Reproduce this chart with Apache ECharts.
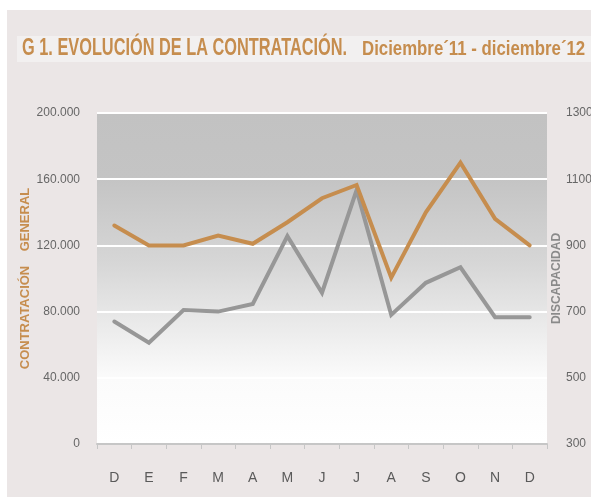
<!DOCTYPE html>
<html>
<head>
<meta charset="utf-8">
<script src="https://cdn.jsdelivr.net/npm/echarts@6/dist/echarts.min.js"></script>
<style>
  html, body { margin: 0; padding: 0; background: #fff; }
  #chart { width: 591px; height: 497px; }
</style>
</head>
<body>
<div id="chart"></div>
<script>
// meses dic'11 - dic'12
const meses = ["D", "E", "F", "M", "A", "M", "J", "J", "A", "S", "O", "N", "D"];
// contratación general (eje izquierdo)
const general = [132000, 120000, 120000, 126000, 121000, 134000, 148500, 156500, 100500, 140000, 170000, 136000, 120000];
// discapacidad (eje derecho)
const discapacidad = [670, 606, 705, 700, 723, 928, 757, 1067, 690, 787, 834, 683, 683];

const naranja = "#c68d4e";
const gris = "#979797";

function initChart() {
    const chart = echarts.init(document.getElementById('chart'), null, { renderer: 'canvas' });

    const option = {
        animation: false,
        graphic: [
            // fondo de la ficha
            { type: 'rect', left: 7, top: 10, shape: { width: 584, height: 487 }, style: { fill: '#ebe6e6' }, z: -10 },
            // banda del título
            { type: 'rect', left: 17, top: 36, shape: { width: 574, height: 26 }, style: { fill: '#f2f0f0' }, z: -9 },
            {
                type: 'text', x: 22, y: 49, scaleX: 0.71,
                style: {
                    text: 'G 1. EVOLUCIÓN DE LA CONTRATACIÓN.',
                    verticalAlign: 'middle',
                    fontFamily: 'Liberation Sans', fontWeight: 'bold', fontSize: 23, fill: naranja
                }
            },
            {
                type: 'text', x: 362, y: 49.5, scaleX: 0.8,
                style: {
                    text: 'Diciembre´11 - diciembre´12',
                    verticalAlign: 'middle',
                    fontFamily: 'Liberation Sans', fontWeight: 'bold', fontSize: 21, fill: naranja
                }
            }
        ],
        grid: {
            left: 97, right: 44, top: 113, bottom: 53,
            outerBoundsMode: 'none',
            show: true,
            borderWidth: 0,
            backgroundColor: new echarts.graphic.LinearGradient(0, 0, 0, 1, [
                { offset: 0, color: '#c2c2c2' },
                { offset: 0.2, color: '#c4c4c4' },
                { offset: 0.45, color: '#d6d6d6' },
                { offset: 0.6, color: '#e6e6e6' },
                { offset: 0.8, color: '#fbfbfb' },
                { offset: 1, color: '#ffffff' }
            ])
        },
        xAxis: {
            type: 'category',
            data: meses,
            boundaryGap: true,
            axisLine: { lineStyle: { color: '#c6c6c6', width: 2 } },
            axisTick: { show: true, length: 5, lineStyle: { color: '#c6c6c6' } },
            axisLabel: { color: '#5a5a5a', fontSize: 14, margin: 27, fontFamily: 'Liberation Sans' }
        },
        yAxis: [
            {
                type: 'value', min: 0, max: 200000, interval: 40000,
                name: 'CONTRATACIÓN    GENERAL',
                nameLocation: 'middle', nameRotate: 90, nameGap: 65, nameMoveOverlap: false,
                nameTextStyle: { color: naranja, fontWeight: 'bold', fontSize: 13, fontFamily: 'Liberation Sans' },
                axisLine: { show: false }, axisTick: { show: false },
                axisLabel: {
                    color: '#666', fontSize: 12, margin: 17, fontFamily: 'Liberation Sans',
                    formatter: v => v === 0 ? '0' : v.toLocaleString('de-DE')
                },
                splitLine: { show: true, lineStyle: { color: '#ffffff', width: 2 } }
            },
            {
                type: 'value', min: 300, max: 1300, interval: 200,
                name: 'DISCAPACIDAD',
                nameLocation: 'middle', nameRotate: 90, nameGap: 4, nameMoveOverlap: false,
                nameTextStyle: { color: '#8a8a8a', fontWeight: 'bold', fontSize: 12, fontFamily: 'Liberation Sans' },
                axisLine: { show: false }, axisTick: { show: false },
                axisLabel: { color: '#666', fontSize: 12, margin: 19, fontFamily: 'Liberation Sans', formatter: v => String(v) },
                splitLine: { show: false }
            }
        ],
        series: [
            {
                type: 'line', name: 'Discapacidad', yAxisIndex: 1,
                data: discapacidad, symbol: 'none',
                lineStyle: { color: gris, width: 4, cap: 'round', join: 'miter' }
            },
            {
                type: 'line', name: 'Contratación general', yAxisIndex: 0,
                data: general, symbol: 'none',
                lineStyle: { color: naranja, width: 4, cap: 'round', join: 'miter' }
            }
        ]
    };

    chart.setOption(option);
}

window.addEventListener('load', initChart);
</script>
</body>
</html>
